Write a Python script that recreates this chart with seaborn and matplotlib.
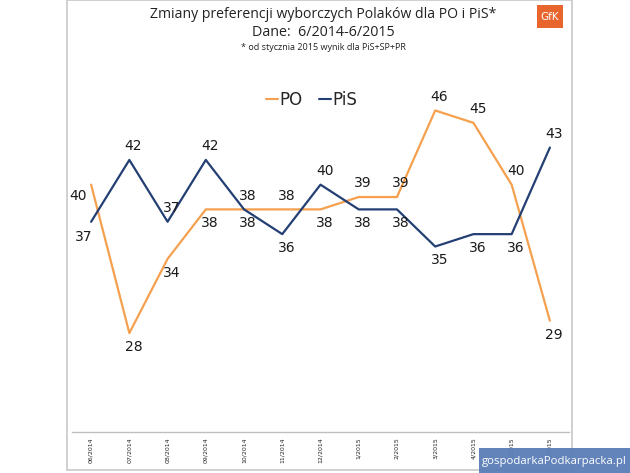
import matplotlib
matplotlib.use("Agg")
import matplotlib.pyplot as plt
import seaborn as sns
import pandas as pd
from matplotlib.patches import Rectangle

months = ["06/2014", "07/2014", "08/2014", "09/2014", "10/2014", "11/2014", "12/2014",
          "1/2015", "2/2015", "3/2015", "4/2015", "5/2015", "6/2015"]
po = [40, 28, 34, 38, 38, 38, 38, 39, 39, 46, 45, 40, 29]
pis = [37, 42, 37, 42, 38, 36, 40, 38, 38, 35, 36, 36, 43]

PO_COLOR = "#F5A04E"
PIS_COLOR = "#243F73"

sns.set_theme(style="white")
plt.rcParams['font.family'] = ['DejaVu Sans']

df = pd.DataFrame({
    "pos": list(range(len(months))) * 2,
    "value": po + pis,
    "party": ["PO"] * len(months) + ["PiS"] * len(months),
})

fig = plt.figure(figsize=(6.3, 4.73), dpi=100)
fig.patch.set_facecolor("white")
ax = fig.add_axes([72 / 630, 1 - 432 / 473, (569 - 72) / 630, (432 - 61) / 473])

sns.lineplot(data=df, x="pos", y="value", hue="party", palette={"PO": PO_COLOR, "PiS": PIS_COLOR},
             linewidth=1.6, ax=ax, sort=False, legend=False)

ax.set_xlim(-0.5, len(months) - 0.5)
ax.set_ylim(20, 50)
ax.set_xlabel("")
ax.set_ylabel("")
ax.set_yticks([])
ax.set_xticks(range(len(months)))
ax.set_xticklabels(months, rotation=90, fontsize=4.5, va="top")
ax.tick_params(axis="x", length=0, pad=4)
for s in ["top", "right", "left"]:
    ax.spines[s].set_visible(False)
ax.spines["bottom"].set_color("#BFBFBF")
ax.spines["bottom"].set_linewidth(1.0)
ax.set_facecolor("none")

# data labels
for i, (a, b) in enumerate(zip(po, pis)):
    if i == 0:
        ax.annotate(str(a), (i, a), xytext=(-3, -8), textcoords="offset points",
                    ha="right", va="center", fontsize=10, color="#1a1a1a")
        ax.annotate(str(b), (i, b), xytext=(-5, -11), textcoords="offset points",
                    ha="center", va="center", fontsize=10, color="#1a1a1a")
        continue
    po_above = a > b
    for v, above in ((a, po_above), (b, not po_above)):
        dy = 10 if above else -10
        ax.annotate(str(v), (i, v), xytext=(3, dy), textcoords="offset points",
                    ha="center", va="center", fontsize=10, color="#1a1a1a")

# legend
ax.plot([], [], color=PO_COLOR, lw=1.5, label="PO")
ax.plot([], [], color=PIS_COLOR, lw=1.5, label="PiS")
leg = ax.legend(loc="center", bbox_to_anchor=((312 - 72) / (569 - 72), (432 - 100) / (432 - 61)),
                ncol=2, frameon=False, fontsize=12, handlelength=0.7, handletextpad=0.1,
                columnspacing=1.0)

# titles
cx = 323 / 630
fig.text(cx, 1 - 15 / 473, "Zmiany preferencji wyborczych Polaków dla PO i PiS*", ha="center", va="center",
         fontsize=10.1, color="#222222", family=["Open Sans", "DejaVu Sans"])
fig.text(cx, 1 - 33 / 473, "Dane:  6/2014-6/2015", ha="center", va="center",
         fontsize=10.3, color="#222222", family=["Open Sans", "DejaVu Sans"])
fig.text(cx, 1 - 48 / 473, "* od stycznia 2015 wynik dla PiS+SP+PR", ha="center", va="center",
         fontsize=6.5, color="#222222", family=["Open Sans", "DejaVu Sans"])

# outer frame
fig.patches.append(Rectangle((67 / 630, 1 - 470 / 473), (572 - 67) / 630, 470 / 473,
                             transform=fig.transFigure, fill=False, edgecolor="#C8C8C8", lw=1.2))

# GfK logo
fig.patches.append(Rectangle((537 / 630, 1 - 28 / 473), 26 / 630, 23 / 473,
                             transform=fig.transFigure, facecolor="#E8662E", edgecolor="none"))
fig.text(550 / 630, 1 - 16.5 / 473, "GfK", ha="center", va="center", fontsize=7.5, color="white")

# watermark
fig.patches.append(Rectangle((479 / 630, 0), 151 / 630, 25 / 473,
                             transform=fig.transFigure, facecolor="#5B7DB8", edgecolor="none", alpha=0.95))
fig.text(554 / 630, 12 / 473, "gospodarkaPodkarpacka.pl", ha="center", va="center",
         fontsize=8.2, color="white", family=["Open Sans", "DejaVu Sans"])

fig.savefig("out.png", dpi=100, facecolor="white")
